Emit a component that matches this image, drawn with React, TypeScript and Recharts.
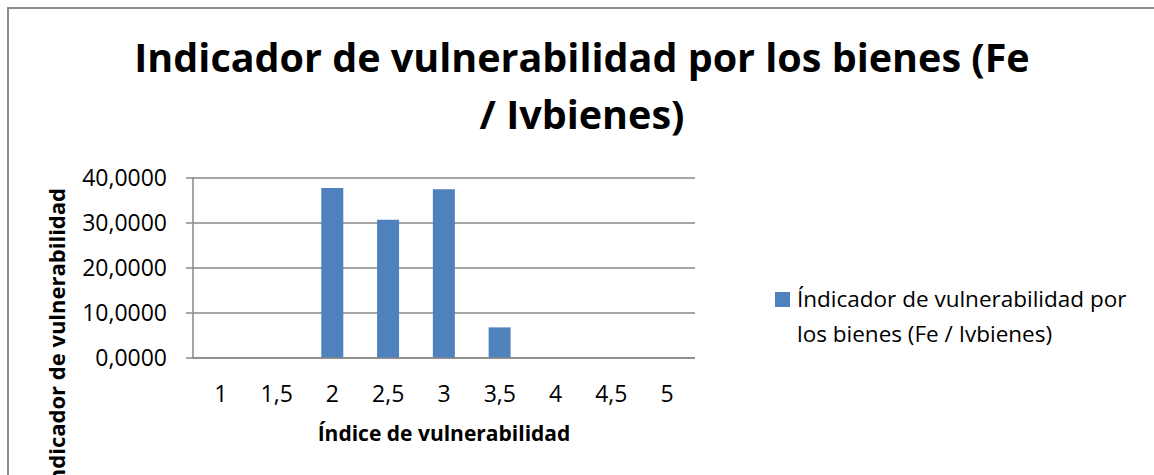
import { BarChart, Bar, XAxis, YAxis, CartesianGrid } from "recharts";

const categories = ["1", "1,5", "2", "2,5", "3", "3,5", "4", "4,5", "5"];
const values = [0, 0, 37.8, 30.7, 37.5, 6.8, 0, 0, 0];
const yTicks = [0, 10, 20, 30, 40];

const titleLines = ["Indicador de vulnerabilidad por los bienes (Fe", "/ Ivbienes)"];
const seriesName = "Índicador de vulnerabilidad por los bienes (Fe / Ivbienes)";
const legendLines = ["Índicador de vulnerabilidad por", "los bienes (Fe / Ivbienes)"];
const xTitle = "Índice de vulnerabilidad";
const yTitle = "Indicador de vulnerabilidad";

const data = categories.map((c, i) => ({ k: c, v: values[i] }));

const font = "'Open Sans', sans-serif";
const gray = "#888888";
const blue = "#4F81BD";

const fmt = (v: number) => v.toFixed(4).replace(".", ",");

const YTitle = () => (
  <text
    x={65}
    y={188}
    transform="rotate(-90 65 188)"
    textAnchor="end"
    fontFamily={font}
    fontWeight="bold"
    fontSize={22}
    fill="#000"
  >
    {yTitle}
  </text>
);

// x title sits under the tick row, centred on the plot
const XTitle = (props: any) => {
  const vb = props.viewBox || { x: 193, width: 502, y: 358 };
  return (
    <text
      x={vb.x + vb.width / 2}
      y={vb.y + 83}
      textAnchor="middle"
      fontFamily={font}
      fontWeight="bold"
      fontSize={21}
      fill="#000"
    >
      {xTitle}
    </text>
  );
};

export default function App() {
  return (
    <div style={{ position: "absolute", left: 0, top: 0, width: 1154, height: 475, background: "#fff", overflow: "hidden" }}>
      <div
        style={{
          position: "absolute",
          left: 7,
          top: 7,
          width: 1200,
          height: 500,
          borderLeft: "2px solid #8c8c8c",
          borderTop: "2px solid #8c8c8c",
        }}
      />
      <div
        style={{
          position: "absolute",
          left: 0,
          top: 29,
          width: 1164,
          textAlign: "center",
          fontFamily: font,
          fontWeight: "bold",
          fontSize: 39.5,
          lineHeight: "57px",
          color: "#000",
        }}
      >
        {titleLines.map((l) => (
          <div key={l}>{l}</div>
        ))}
      </div>
      <div style={{ position: "absolute", left: 0, top: 0 }}>
        <BarChart
          width={1154}
          height={475}
          data={data}
          margin={{ top: 178, right: 459, bottom: 57, left: 0 }}
          barCategoryGap="30%"
        >
          <CartesianGrid vertical={false} stroke={gray} strokeWidth={1.5} />
          <XAxis
            dataKey="k"
            type="category"
            height={60}
            tickLine={false}
            tickSize={0}
            tickMargin={28}
            axisLine={{ stroke: gray, strokeWidth: 1.5 }}
            tick={{ fontFamily: font, fontSize: 23, fill: "#000" }}
            interval={0}
            label={<XTitle />}
          />
          <YAxis
            width={193}
            domain={[0, 40]}
            ticks={yTicks}
            tickFormatter={fmt}
            tickSize={7}
            tickMargin={19}
            interval={0}
            axisLine={{ stroke: gray, strokeWidth: 1.5 }}
            tickLine={{ stroke: gray, strokeWidth: 1.5 }}
            tick={{ fontFamily: font, fontSize: 23, fill: "#000" }}
            label={<YTitle />}
          />
          <Bar dataKey="v" name={seriesName} fill={blue} isAnimationActive={false} />
        </BarChart>
      </div>
      <div
        style={{
          position: "absolute",
          left: 775,
          top: 281,
          width: 375,
          fontFamily: font,
          fontSize: 22.5,
          lineHeight: "35px",
          color: "#000",
        }}
      >
        <div style={{ position: "absolute", left: 0, top: 11, width: 15, height: 15, background: blue }} />
        <div style={{ marginLeft: 22 }}>
          {legendLines.map((l) => (
            <div key={l}>{l}</div>
          ))}
        </div>
      </div>
    </div>
  );
}
